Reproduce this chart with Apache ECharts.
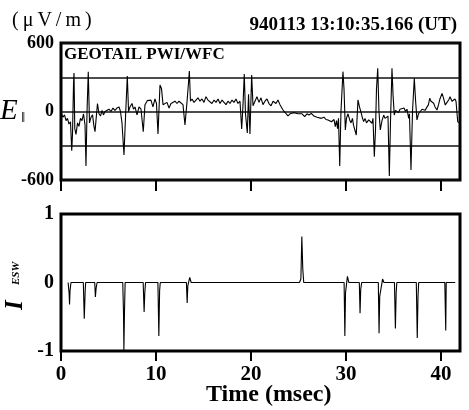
<!DOCTYPE html>
<html>
<head>
<meta charset="utf-8">
<script src="https://cdn.jsdelivr.net/npm/echarts@6.0.0/dist/echarts.min.js"></script>
<style>
    html, body { margin: 0; padding: 0; background: #fff; }
    #chart { width: 469px; height: 410px; }
</style>
</head>
<body>
<div id="chart"></div>
<script>
// time axis (msec)
var timeTicks = [0, 10, 20, 30, 40];

// E parallel waveform (uV/m)
var eTime = [0.05, 0.21, 0.37, 0.53, 0.68, 0.84, 1.00, 1.13, 1.21, 1.32, 1.37, 1.45, 1.58, 1.74, 1.89, 2.05, 2.21, 2.37, 2.53, 2.63,
    2.74, 2.87, 3.00, 3.16, 3.32, 3.47, 3.58, 3.68, 3.84, 4.00, 4.16, 4.32, 4.47, 4.63, 4.84, 5.05, 5.26, 5.47, 5.68, 5.89,
    6.11, 6.26, 6.42, 6.63, 6.79, 6.98, 7.11, 7.26, 7.47, 7.63, 7.79, 8.00, 8.21, 8.42, 8.66, 8.84, 9.08, 9.26, 9.47, 9.68,
    9.89, 10.05, 10.21, 10.42, 10.58, 10.74, 10.95, 11.16, 11.37, 11.58, 11.79, 12.00, 12.21, 12.42, 12.63, 12.84, 13.05, 13.26, 13.42, 13.51,
    13.63, 13.79, 14.00, 14.21, 14.42, 14.63, 14.84, 15.05, 15.26, 15.47, 15.68, 15.89, 16.11, 16.32, 16.53, 16.74, 16.95, 17.16, 17.37, 17.58,
    17.79, 18.00, 18.21, 18.42, 18.63, 18.84, 19.02, 19.16, 19.29, 19.42, 19.61, 19.74, 19.89, 20.07, 20.21, 20.42, 20.63, 20.84, 21.05, 21.26,
    21.47, 21.68, 21.89, 22.11, 22.32, 22.49, 22.63, 22.84, 23.05, 23.37, 23.58, 23.89, 24.11, 24.32, 24.53, 24.74, 24.95, 25.16, 25.37, 25.65,
    25.89, 26.11, 26.35, 26.63, 26.95, 27.16, 27.40, 27.68, 27.89, 28.11, 28.32, 28.47, 28.63, 28.74, 28.87, 29.00, 29.11, 29.21, 29.34, 29.47,
    29.68, 29.79, 29.93, 30.05, 30.21, 30.39, 30.53, 30.68, 30.79, 30.92, 31.08, 31.26, 31.42, 31.61, 31.74, 31.86, 32.00, 32.16, 32.39, 32.53,
    32.74, 32.84, 32.98, 33.11, 33.21, 33.34, 33.47, 33.61, 33.79, 33.97, 34.11, 34.32, 34.42, 34.56, 34.68, 34.84, 34.95, 35.08, 35.21, 35.37,
    35.53, 35.68, 35.89, 36.11, 36.26, 36.42, 36.60, 36.68, 36.84, 37.00, 37.19, 37.32, 37.47, 37.63, 37.82, 38.00, 38.18, 38.32, 38.53, 38.68,
    38.81, 38.95, 39.23, 39.37, 39.58, 39.74, 39.89, 40.11, 40.26, 40.45, 40.63, 40.81, 40.95, 41.16, 41.34, 41.47, 41.58, 41.76, 41.89];
var eValue = [-20, -50, -30, -80, -60, -110, -90, -343, -200, 250, 337, -150, -200, -100, -130, -60, -80, -20, -120, -477,
    0, 349, -100, -50, -30, -130, -177, -80, 70, -20, -40, 10, -30, 0, -10, 20, 0, 30, 10, 30,
    40, 0, -100, -381, -50, 311, 0, 40, 70, 20, 40, -30, 40, 20, -177, 60, 95, 80, 100, 40,
    110, 70, -197, 232, 200, 60, 50, 80, 30, 70, 60, 90, 70, 90, 80, 60, -118, 80, 250, 355,
    90, 110, 80, 90, 120, 90, 110, 80, 130, 100, 90, 70, 100, 80, 110, 70, 100, 80, 60, 90,
    70, 100, 80, 110, 70, 90, -153, 60, 328, -20, -188, 150, -197, 320, 50, 90, 130, 80, 120, 60,
    90, 110, 70, 50, 90, 95, 70, 100, 60, 13, 0, -39, -20, -30, -10, 0, -20, -30, -20, -45,
    -20, -30, -16, -40, -50, -40, -60, -50, -70, -74, -80, -90, -103, -70, -133, -80, -150, -60, -477, 0,
    349, 200, -162, -60, -20, -74, -100, -60, -120, -133, -206, 101, 40, -16, -60, -89, -60, -100, -74, -90,
    -103, -60, -396, -150, 200, 378, 0, -162, -80, -31, -60, -74, -40, -565, -100, 378, 150, -31, 10, 19,
    -10, 20, 13, 30, 0, 20, -60, -20, -512, 0, 291, 100, -74, -20, 0, 20, 28, 10, 0, 60,
    116, 90, 72, 40, 13, 60, 110, 159, 120, 57, 80, 101, 130, 90, 86, 110, 90, -89, -100];

// I_ESW index
var iTime = [0.75, 0.85, 0.90, 0.95, 1.05, 2.35, 2.45, 2.55, 2.60, 3.55, 3.62, 3.70, 3.80,
    6.50, 6.58, 6.62, 6.68, 6.75, 8.65, 8.75, 8.82, 8.90, 10.20, 10.30, 10.38, 10.45,
    13.20, 13.28, 13.35, 13.55, 13.70, 25.10, 25.25, 25.35, 25.45, 25.55,
    29.80, 29.88, 29.95, 30.15, 30.30, 31.40, 31.48, 31.55, 31.65,
    33.40, 33.48, 33.55, 33.85, 34.00, 35.10, 35.20, 35.28, 35.35,
    37.40, 37.50, 37.58, 37.65, 40.40, 40.50, 40.55, 41.50];
var iValue = [0, -0.15, -0.32, -0.12, 0, 0, -0.53, -0.1, 0, 0, -0.21, -0.08, 0,
    0, -0.45, -0.99, -0.45, 0, 0, -0.43, -0.15, 0, 0, -0.78, -0.12, 0,
    0, -0.3, -0.05, 0.075, 0, 0, 0.05, 0.67, 0.2, 0,
    0, -0.78, -0.15, 0.09, 0, 0, -0.45, -0.1, 0,
    0, -0.74, -0.2, 0.05, 0, 0, -0.67, -0.15, 0,
    0, -0.81, -0.2, 0, 0, -0.7, 0, 0];

var eTicks = [-600, 0, 600];
var iTicks = [-1, 0, 1];

var serif = "'Liberation Serif', 'DejaVu Serif', serif";

function pairs(xs, ys) {
    return xs.map(function (x, i) { return [x, ys[i]]; });
}

var chart = echarts.init(document.getElementById("chart"));

var numLabel = {
    color: "#000",
    fontFamily: serif,
    fontWeight: "bold",
    fontSize: 18,
    margin: 7
};

var option = {
    animation: false,
    backgroundColor: "#fff",
    grid: [
        { left: 61, top: 43, width: 399, height: 137, show: true, borderColor: "#000", borderWidth: 3 },
        { left: 61, top: 214, width: 399, height: 137, show: true, borderColor: "#000", borderWidth: 3 }
    ],
    xAxis: [
        {
            gridIndex: 0, type: "value", min: 0, max: 42, interval: 10,
            axisLine: { show: false, onZero: false },
            axisTick: { show: true, inside: false, length: 11, customValues: timeTicks, lineStyle: { color: "#000", width: 2 } },
            axisLabel: { show: false },
            splitLine: { show: false }
        },
        {
            gridIndex: 1, type: "value", min: 0, max: 42, interval: 10,
            axisLine: { show: false, onZero: false },
            axisTick: { show: true, inside: false, length: 10, customValues: timeTicks, lineStyle: { color: "#000", width: 2 } },
            axisLabel: Object.assign({}, numLabel, { fontSize: 21, margin: 13, customValues: timeTicks }),
            splitLine: { show: false }
        }
    ],
    yAxis: [
        {
            gridIndex: 0, type: "value", min: -600, max: 600, interval: 300,
            axisLine: { show: false, onZero: false },
            axisTick: { show: false },
            axisLabel: Object.assign({}, numLabel, { customValues: eTicks }),
            splitLine: { show: true, lineStyle: { color: "#111", width: 1.5 } }
        },
        {
            gridIndex: 1, type: "value", min: -1, max: 1, interval: 1,
            axisLine: { show: false, onZero: false },
            axisTick: { show: false },
            axisLabel: Object.assign({}, numLabel, { fontSize: 20, customValues: iTicks }),
            splitLine: { show: false }
        }
    ],
    series: [
        {
            type: "line", xAxisIndex: 0, yAxisIndex: 0,
            data: pairs(eTime, eValue),
            showSymbol: false,
            lineStyle: { color: "#000", width: 1.1 }
        },
        {
            type: "line", xAxisIndex: 1, yAxisIndex: 1,
            data: pairs(iTime, iValue),
            showSymbol: false,
            lineStyle: { color: "#000", width: 1.1 }
        }
    ],
    graphic: [
        { type: "text", left: 12, top: 11, style: { text: "(\u2009μ\u2009V\u2009/\u2009m\u2009)", font: "20px " + serif, fill: "#000" } },
        { type: "text", right: 12, top: 16, style: { text: "940113 13:10:35.166 (UT)", font: "bold 19px " + serif, fill: "#000" } },
        { type: "text", left: 64, top: 46, z: 10, style: { text: "GEOTAIL PWI/WFC", font: "bold 17px " + serif, fill: "#000" } },
        { type: "text", left: 0, top: 97, style: { text: "E", font: "italic 29px " + serif, fill: "#000" } },
        { type: "text", left: 21, top: 111, style: { text: "‖", font: "15px " + serif, fill: "#000" } },
        { type: "text", x: 3, y: 310, rotation: Math.PI / 2, style: { text: "I", font: "italic bold 25px " + serif, fill: "#000" } },
        { type: "text", x: 11, y: 285, rotation: Math.PI / 2, style: { text: "ESW", font: "italic bold 11px " + serif, fill: "#000" } },
        { type: "text", left: 206, top: 383, style: { text: "Time (msec)", font: "bold 24px " + serif, fill: "#000" } }
    ]
};

chart.setOption(option);
</script>
</body>
</html>
